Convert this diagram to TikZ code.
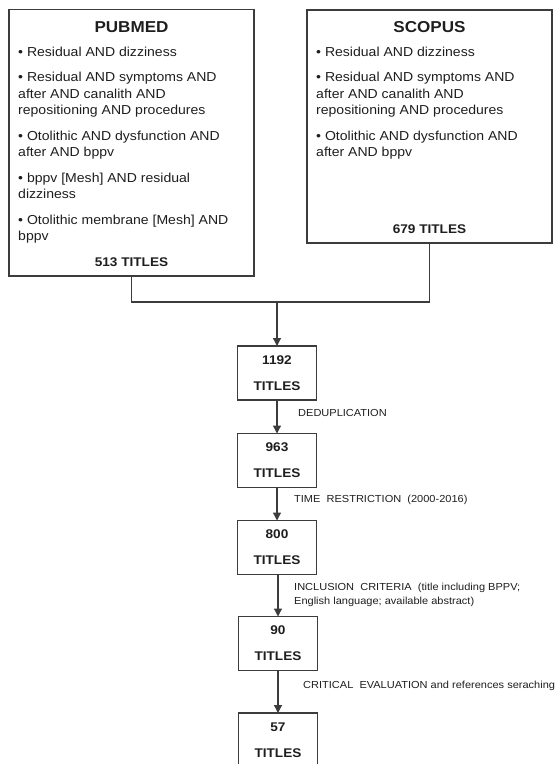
\documentclass[tikz,border=0pt]{standalone}
\usepackage{fontspec}
\setmainfont{Liberation Sans}
\newfontfamily\boxfont[FakeStretch=1.08]{Liberation Sans}
\usetikzlibrary{arrows.meta}
\definecolor{linecol}{HTML}{3C3C3C}
\definecolor{txtcol}{HTML}{1E1E1E}
\tikzset{
  bigbox/.style={draw=linecol, line width=1.25pt, rectangle, inner sep=0pt, outer sep=0pt, anchor=north west},
  smallbox/.style={draw=linecol, line width=1.25pt, rectangle, inner sep=0pt, outer sep=0pt,
    minimum width=79pt, minimum height=54pt, align=center, text=txtcol,
    font=\boxfont\bfseries\fontsize{12.6}{26}\selectfont},
  titlefont/.style={text=txtcol, font=\boxfont\bfseries\fontsize{15.8}{18}\selectfont, inner sep=0pt},
  countfont/.style={text=txtcol, font=\boxfont\bfseries\fontsize{12.6}{15}\selectfont, inner sep=0pt},
  itemlist/.style={text=txtcol, font=\boxfont\fontsize{13}{16.5}\selectfont, align=left, inner sep=0pt, anchor=north west},
  steplabel/.style={text=txtcol, font=\boxfont\fontsize{10.2}{14}\selectfont, align=left, inner sep=0pt, anchor=west},
  conn/.style={draw=linecol, line width=1.25pt},
  arr/.style={conn, -{Triangle[length=8pt,width=8pt]}}
}
\begin{document}
\begin{tikzpicture}[x=1pt,y=-1pt]
\useasboundingbox (0,0) rectangle (560,764);
% database boxes
\node[bigbox, minimum width=245pt, minimum height=266.5pt] (pub) at (9,9.5) {};
\node[bigbox, minimum width=245pt, minimum height=233pt] (sco) at (307,10) {};
% PUBMED content
\node[titlefont] (pubt) at (131.5,27) {PUBMED};
\node[itemlist] (pubi) at (18,46.5) {• Residual AND dizziness\\[9pt]
• Residual AND symptoms AND\\ after AND canalith AND\\ repositioning AND procedures\\[9pt]
• Otolithic AND dysfunction AND\\ after AND bppv\\[9pt]
• bppv [Mesh] AND residual\\ dizziness\\[9pt]
• Otolithic membrane [Mesh] AND\\ bppv};
\node[countfont] (pubc) at (131.5,262) {513 TITLES};
% SCOPUS content
\node[titlefont] (scot) at (429.5,27) {SCOPUS};
\node[itemlist] (scoi) at (316,46.5) {• Residual AND dizziness\\[9pt]
• Residual AND symptoms AND\\ after AND canalith AND\\ repositioning AND procedures\\[9pt]
• Otolithic AND dysfunction AND\\ after AND bppv};
\node[countfont] (scoc) at (429.5,229) {679 TITLES};
% flow boxes
\node[smallbox] (b1) at (277,373) {1192\\TITLES};
\node[smallbox] (b2) at (277,460.5) {963\\TITLES};
\node[smallbox] (b3) at (277,547.5) {800\\TITLES};
\node[smallbox] (b4) at (278,643.5) {90\\TITLES};
\node[smallbox] (b5) at (278,740) {57\\TITLES};
% connectors
\coordinate (j) at (277,302);
\draw[conn] (pub.south) |- (j) -| (sco.south);
\draw[arr] (j) -- (b1.north);
\draw[arr] (b1.south) -- (b2.north);
\draw[arr] (b2.south) -- (b3.north);
\draw[arr] (b3.south -| b4.north) -- (b4.north);
\draw[arr] (b4.south) -- (b5.north);
% step labels
\node[steplabel] (l1) at (298,413) {DEDUPLICATION};
\node[steplabel] (l2) at (294,500) {TIME~ RESTRICTION~ (2000-2016)};
\node[steplabel] (l3) at (294,595) {INCLUSION~ CRITERIA~ (title including BPPV;\\English language; available abstract)};
\node[steplabel] (l4) at (303,686) {CRITICAL~ EVALUATION and references seraching};
\end{tikzpicture}
\end{document}
